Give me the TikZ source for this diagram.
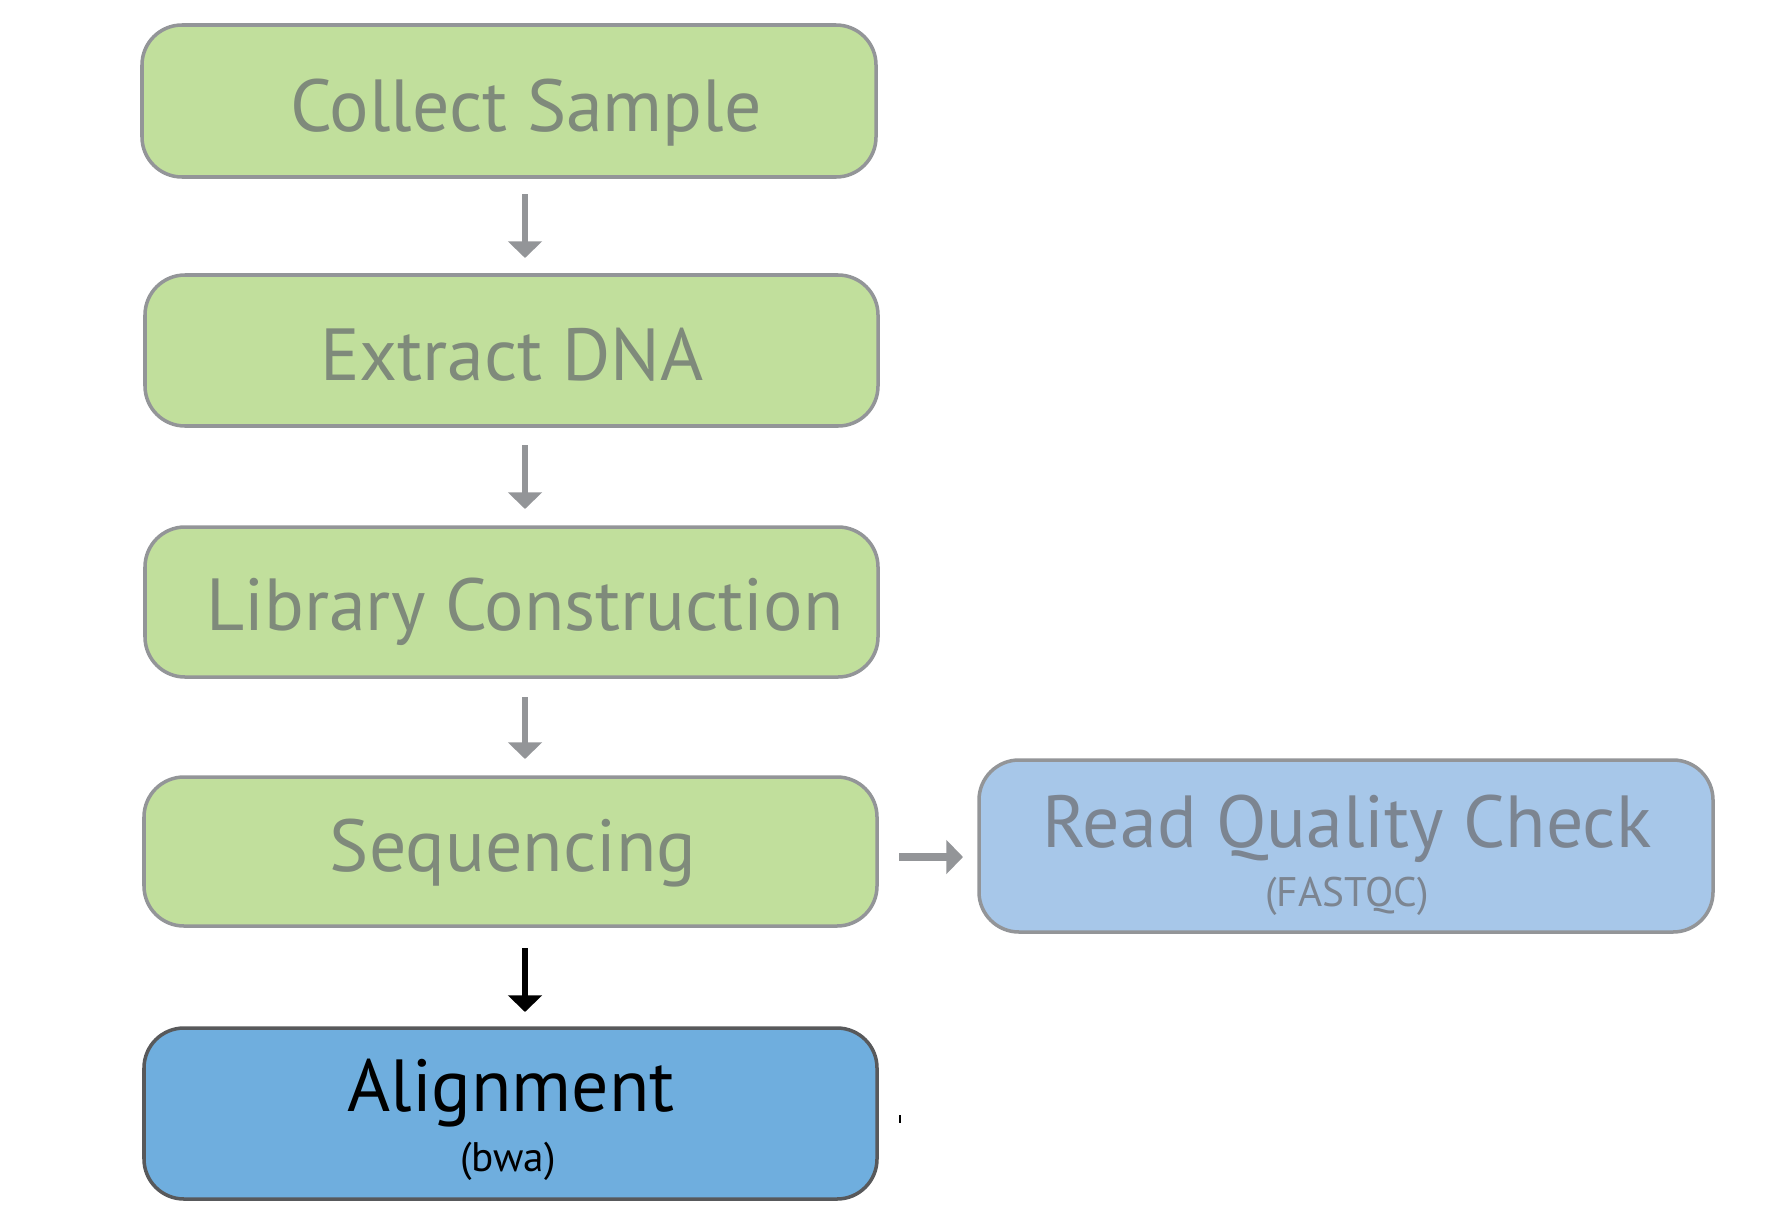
\documentclass[tikz,border=0pt]{standalone}
\usepackage{fontspec}
\setmainfont{PT Sans}
\usetikzlibrary{arrows.meta}
\definecolor{boxgreen}{HTML}{C1DF9C}
\definecolor{boxgray}{HTML}{939598}
\definecolor{txtgreen}{HTML}{7F8A7B}
\definecolor{boxlblue}{HTML}{A7C7E9}
\definecolor{txtblue}{HTML}{7C8591}
\definecolor{boxblue}{HTML}{6FAEDE}
\definecolor{boxdark}{HTML}{58595B}
\begin{document}
\begin{tikzpicture}[x=0.02cm,y=-0.02cm,
  stepbox/.style={draw=boxgray,line width=2pt,rounded corners=0.8cm,fill=boxgreen},
  maintext/.style={font=\fontsize{42}{46}\selectfont,text=txtgreen,inner sep=0pt,anchor=base},
  subtext/.style={font=\fontsize{23.5}{25}\selectfont,inner sep=0pt,anchor=base},
  grayarrow/.style={draw=boxgray,line width=3pt,-{Triangle[width=19pt,length=9.5pt]}},
  blackarrow/.style={draw=black,line width=3pt,-{Triangle[width=19pt,length=9.5pt]}}]
\useasboundingbox (0,0) rectangle (1791,1210);
% boxes
\path[stepbox] (142,25) rectangle (876,177);
\path[stepbox] (145,275) rectangle (878,426);
\path[stepbox] (145,527) rectangle (878,677);
\path[stepbox] (144,777) rectangle (877,926);
\path[draw=boxdark,line width=2pt,rounded corners=0.8cm,fill=boxblue] (144,1028) rectangle (877,1199);
\path[draw=boxgray,line width=2pt,rounded corners=0.8cm,fill=boxlblue] (979,760) rectangle (1713,932);
% texts
\node[maintext] (collect) at (526,131) {Collect Sample};
\node[maintext] (extract) at (512,380) {Extract DNA};
\node[maintext] (library) at (525,630) {Library Construction};
\node[maintext] (seq) at (513,871) {Sequencing};
\node[maintext,text=black] (align) at (511,1111) {Alignment};
\node[subtext,text=black] (bwa) at (508,1171) {(bwa)};
\node[maintext,text=txtblue] (rqc) at (1347,847) {Read Quality Check};
\node[subtext,text=txtblue] (fastqc) at (1347,906) {(FASTQC)};
% arrow anchor points
\coordinate (a1s) at (525,194); \coordinate (a1e) at (525,258);
\coordinate (a2s) at (525,445); \coordinate (a2e) at (525,509);
\coordinate (a3s) at (525,697); \coordinate (a3e) at (525,759);
\coordinate (a4s) at (525,948); \coordinate (a4e) at (525,1012);
\coordinate (a5s) at (899,857); \coordinate (a5e) at (963,857);
\draw[grayarrow] (a1s) -- (a1e);
\draw[grayarrow] (a2s) -- (a2e);
\draw[grayarrow] (a3s) -- (a3e);
\draw[blackarrow] (a4s) -- (a4e);
\draw[grayarrow,line width=4pt] (a5s) -- (a5e);
% small tick
\coordinate (t1) at (900,1115); \coordinate (t2) at (900,1123);
\draw[black,line width=0.8pt] (t1) -- (t2);
\end{tikzpicture}
\end{document}
